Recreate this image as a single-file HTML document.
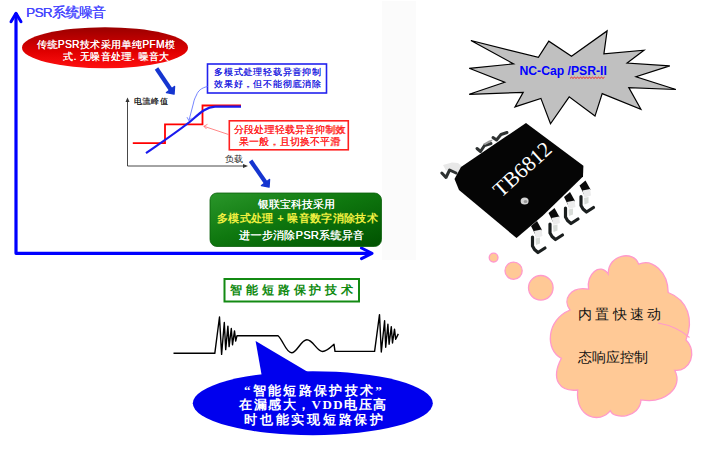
<!DOCTYPE html>
<html><head><meta charset="utf-8">
<style>
html,body{margin:0;padding:0;background:#fff;}
body{width:711px;height:456px;position:relative;overflow:hidden;font-family:"Liberation Sans",sans-serif;}
svg{position:absolute;left:0;top:0;}
.t{position:absolute;white-space:nowrap;line-height:1;}
</style></head><body>
<svg width="711" height="456" viewBox="0 0 711 456">
  <defs>
    <linearGradient id="rg" x1="0" y1="0" x2="0" y2="1">
      <stop offset="0" stop-color="#9a0000"/>
      <stop offset="0.6" stop-color="#e00000"/>
      <stop offset="1" stop-color="#ff1010"/>
    </linearGradient>
    <linearGradient id="gg" x1="0" y1="0" x2="1" y2="1">
      <stop offset="0" stop-color="#2a962a"/>
      <stop offset="0.45" stop-color="#0f780f"/>
      <stop offset="1" stop-color="#005200"/>
    </linearGradient>
  </defs>
  <!-- faint panels -->
  <rect x="382" y="1" width="34" height="259" fill="#fbfbfb"/>
  <!-- big axes -->
  <path d="M16 13 V253.3 H371" fill="none" stroke="#0000ff" stroke-width="3.2" stroke-linejoin="round"/>
  <path d="M11 21.8 L16 13.2 L21 21.8" fill="none" stroke="#0000ff" stroke-width="3" stroke-linecap="round" stroke-linejoin="round"/>
  <path d="M361.5 248 L372 253.3 L361.5 258.6" fill="none" stroke="#0000ff" stroke-width="3" stroke-linecap="round" stroke-linejoin="round"/>
  <!-- red ellipse -->
  <ellipse cx="105" cy="47.7" rx="83" ry="20.5" fill="url(#rg)"/>
  <!-- thick arrows -->
  <path d="M156.5 68.5 L171 90" stroke="#1535d0" stroke-width="4.2"/>
  <path d="M166.5 92.5 L174 94 L174.5 86.5 Z" fill="#1535d0" stroke="#1535d0" stroke-width="1.5" stroke-linejoin="round"/>
  <path d="M250.6 160.7 L266 183" stroke="#1535d0" stroke-width="4.2"/>
  <path d="M261.5 185.5 L269 187 L269.5 179.5 Z" fill="#1535d0" stroke="#1535d0" stroke-width="1.5" stroke-linejoin="round"/>
  <!-- small graph axes -->
  <path d="M127.5 99 V166 H246" fill="none" stroke="#333" stroke-width="0.9"/>
  <path d="M125.5 102 L127.5 97.5 L129.5 102 Z" fill="#333"/>
  <path d="M243 164 L248 166 L243 168 Z" fill="#333"/>
  <!-- red step -->
  <path d="M132.8 143.2 H165 V124.4 H202.5 V105.5 H241" fill="none" stroke="#ff0000" stroke-width="1.8"/>
  <!-- blue curve -->
  <path d="M146 153.2 C162 142 182 128.5 192 120 C200 113 206 107 215 106.7 L241 106.7" fill="none" stroke="#1a1aee" stroke-width="2.2"/>
  <!-- blue box -->
  <rect x="207.5" y="64" width="119" height="29" fill="#fff" stroke="#2222ee" stroke-width="1.6"/>
  <!-- thin blue curved pointer -->
  <path d="M207.5 86.5 C201 88 198 91 196.5 95 C195 98 194 100 193.5 103 L189 120.3" fill="none" stroke="#6677ff" stroke-width="0.9"/>
  <path d="M187 117.2 L189 120.8 L191.6 117.8" fill="none" stroke="#6677ff" stroke-width="0.9"/>
  <!-- red box -->
  <rect x="229.3" y="120.8" width="119" height="29" fill="#fff" stroke="#ff2020" stroke-width="1.6"/>
  <path d="M228.5 134.5 L204 126.3" stroke="#ff6a6a" stroke-width="0.8"/>
  <path d="M207.5 124.3 L203.8 126.3 L206.5 129" fill="none" stroke="#ff6a6a" stroke-width="0.8"/>
  <!-- green box -->
  <rect x="210" y="193" width="171.5" height="53.5" rx="7" ry="7" fill="url(#gg)" stroke="#0a600a" stroke-width="0.8"/>
  <!-- short-circuit green outline box -->
  <rect x="224.5" y="279" width="134.5" height="22.5" fill="#fff" stroke="#138a13" stroke-width="2"/>
  <!-- waveform -->
  <path d="M173.5 353.3 H214.8 L219.5 317 L221.6 354.4 L224.3 322.5 L225.7 349.6 L227.9 326.1 L229.1 346.6 L231.3 328.5 L232.5 344.8 L234.5 330.9 L235.7 341.1 L237 335.7 H278 C283 340 286 352.8 291.6 352.8 C297 352.8 301 339.8 306.9 339.8 C313 339.8 317 351.5 322.6 351.5 C327 351.5 331 347 334 344.3 L335 351.4 H374.6 L379.5 314.6 L381.3 352 L384.6 320.7 L385.7 347.2 L387.9 324.3 L389.1 344.2 L391.3 326.7 L392.5 343 L394.5 329.1 L395.7 339.3 L398.3 333.9" fill="none" stroke="#000" stroke-width="1.4" stroke-linejoin="round"/>
  <!-- blue bubble -->
  <path d="M255.6 341 L262.5 380 L318 378 Z" fill="#0000ee"/>
  <ellipse cx="312.8" cy="403.2" rx="120" ry="32" fill="#0000ee"/>
  <!-- star -->
  <polygon points="470.9,40.5 538.4,57.4 548.8,41.2 571.5,56.2 607.1,30.9 603.9,53.8 644,50.2 627.1,63 669.8,65.9 636,76.7 675.9,89.5 628.8,87.6 640.9,109.3 602.2,93.6 595,116.1 569.2,96.8 550.5,123.8 540.9,98.4 515,106.9 523.2,92.4 469.2,94.3 504.7,82.3 469.2,68.3 513.6,63.9" fill="#c0c0c0" stroke="#000" stroke-width="1.2" stroke-linejoin="miter"/>
  <!-- wavy underline -->
  <path d="M570 78.4 l1.5 -1.2 l1.5 1.2 l1.5 -1.2 l1.5 1.2 l1.5 -1.2 l1.5 1.2 l1.5 -1.2 l1.5 1.2 l1.5 -1.2 l1.5 1.2 l1.5 -1.2 l1.5 1.2 l1.5 -1.2 l1.5 1.2 l1.5 -1.2 l1.5 1.2 l1.5 -1.2 l1.5 1.2 l1.5 -1.2 l1.5 1.2 l1.5 -1.2 l1.5 1.2 l1.5 -1.2" fill="none" stroke="#ff0000" stroke-width="0.8"/>
  <!-- chip pins top-left -->
  <path d="M443 165 L452 162.5 L458 163 L462 166.5 L459 172 L454 173.5 L450 169 L446 170.5 Z" fill="#e8e8e8"/>
  <g fill="none" stroke="#2e3232" stroke-width="3" stroke-linejoin="round" stroke-linecap="round">
    <path d="M441.8 173 L446 177.5 L449.6 170 L456 173"/>
    <path d="M477 148.5 L480.5 151.5 L484.5 145.5 L491 143.5"/>
    <path d="M493 137.5 L496.5 140 L501 134.5 L507 132.5"/>
  </g>
  <path d="M483 144 L489 140.5 L493 139.5 L491 142 L485 145 Z" fill="#9a9a9a"/>
  <!-- chip body -->
  <polygon points="526,123 583.4,165.8 583,176.5 543,215.5 516.5,238 459,190 454.5,179 461,167" fill="#050505"/>
  <!-- bottom-right pins -->
  <g id="pin">
    <path d="M531 226 L537 221 L542 230 L536 236 Z" fill="#0a0a0a"/>
    <path d="M534 231 L541.6 229.5 L542.5 236 L536 238 Z" fill="#ececec"/>
    <path d="M532.5 237 L532.5 246 L534.5 249.5 L538 252.5 L545 248" fill="none" stroke="#1a1e1e" stroke-width="3.2" stroke-linejoin="round" stroke-linecap="round"/>
    <path d="M535.5 238.5 L540 237.5 L540 243.5 L536 245 Z" fill="#d8dcd8"/>
  </g>
  <use href="#pin" transform="translate(17.5,-13)"/>
  <use href="#pin" transform="translate(33,-29)"/>
  <use href="#pin" transform="translate(48.5,-40.5)"/>
  <ellipse cx="524.6" cy="201" rx="4" ry="3.5" fill="#d4d4d4"/>
  <ellipse cx="525.5" cy="201.5" rx="1.8" ry="1.6" fill="#9a9a9a"/>
  <!-- cloud circles -->
  <g fill="#ffc996" stroke="#ff99cc" stroke-width="1.3">
    <circle cx="493.6" cy="257.6" r="4.4"/>
    <circle cx="513.6" cy="270.7" r="8.6"/>
    <circle cx="540.8" cy="287.8" r="12.3"/>
  </g>
  <!-- cloud -->
  <g>
    <path id="cloud" d="M570 310 C562 300 570 286 588.6 289.2 C586 274 600 262 608.2 274 C608 254 634 250 638.7 264.2 C652 258 668 272 668.2 292.5 C688 300 694 320 686 340 C698 352 690 372 674.7 370.3 C684 388 664 404 641 399.8 C640 418 614 420 610.4 410.7 C600 424 575 418 577.7 390 C560 392 550 380 561.4 358.3 C545 350 546 320 570 310 Z" fill="#ffc996" stroke="#ff99cc" stroke-width="1.3"/>
    <path d="M658 323 Q676 326 689.5 337.5" fill="none" stroke="#ff99cc" stroke-width="1.1"/>
  </g>
</svg>
<div class="t" style="left:26px;top:5.7px;font-size:13.5px;color:#4646ff;letter-spacing:-0.6px;text-shadow:0.25px 0 0 #4646ff;">PSR系统噪音</div>
<div class="t" style="left:37px;top:39.5px;font-size:10.15px;letter-spacing:0.4px;text-shadow:0.25px 0 0 #fff;color:#fff;">传统PSR技术采用单纯PFM模</div>
<div class="t" style="left:63px;top:52px;font-size:10.15px;letter-spacing:0.4px;text-shadow:0.25px 0 0 #fff;color:#fff;">式. 无噪音处理. 噪音大</div>
<div class="t" style="left:133.5px;top:98.2px;font-size:8px;color:#222;letter-spacing:0.8px;text-shadow:0.3px 0 0 #222;">电流峰值</div>
<div class="t" style="left:225px;top:155px;font-size:8.5px;color:#222;">负载</div>
<div class="t" style="left:214px;top:68px;font-size:9px;letter-spacing:0.8px;color:#2020e0;text-shadow:0.2px 0 0 #2020e0;">多模式处理轻载异音抑制</div>
<div class="t" style="left:214px;top:80px;font-size:9px;letter-spacing:0.8px;color:#2020e0;text-shadow:0.2px 0 0 #2020e0;">效果好，但不能彻底消除</div>
<div class="t" style="left:234px;top:125px;font-size:10px;letter-spacing:0.15px;text-shadow:0.2px 0 0 #ff2020;color:#ff2020;">分段处理轻载异音抑制效</div>
<div class="t" style="left:239px;top:137px;font-size:10px;letter-spacing:0.15px;text-shadow:0.2px 0 0 #ff2020;color:#ff2020;">果一般，且切换不平滑</div>
<div class="t" style="left:258px;top:199px;font-size:11px;color:#fff;text-shadow:0.3px 0 0 #fff;">银联宝科技采用</div>
<div class="t" style="left:217px;top:213px;font-size:11px;font-weight:bold;color:#f0f040;letter-spacing:0.35px;">多模式处理 + 噪音数字消除技术</div>
<div class="t" style="left:239px;top:230px;font-size:11px;color:#fff;letter-spacing:0.3px;text-shadow:0.3px 0 0 #fff;">进一步消除PSR系统异音</div>
<div class="t" style="left:230px;top:284px;font-size:12px;font-weight:bold;color:#108a10;letter-spacing:3.9px;">智能短路保护技术</div>
<div class="t" style="left:244px;top:384px;font-size:13px;font-weight:bold;color:#fff;letter-spacing:2.3px;font-family:'Liberation Serif',serif;">“智能短路保护技术”</div>
<div class="t" style="left:239px;top:398px;font-size:13px;font-weight:bold;color:#fff;letter-spacing:1.5px;font-family:'Liberation Serif',serif;">在漏感大，VDD电压高</div>
<div class="t" style="left:244px;top:412.5px;font-size:13px;font-weight:bold;color:#fff;letter-spacing:2.75px;font-family:'Liberation Serif',serif;">时也能实现短路保护</div>
<div class="t" style="left:519.5px;top:65px;font-size:12.2px;font-weight:bold;color:#0000ff;">NC-Cap /PSR-II</div>
<div class="t" style="left:578px;top:307px;font-size:14px;color:#111;letter-spacing:3.3px;">内置快速动</div>
<div class="t" style="left:577.5px;top:349.5px;font-size:14px;color:#111;">态响应控制</div>
<div class="t" style="left:504px;top:180px;font-size:21.5px;color:#fff;font-family:'Liberation Serif',serif;transform:rotate(-42deg);transform-origin:0 100%;">TB6812</div>
</body></html>
